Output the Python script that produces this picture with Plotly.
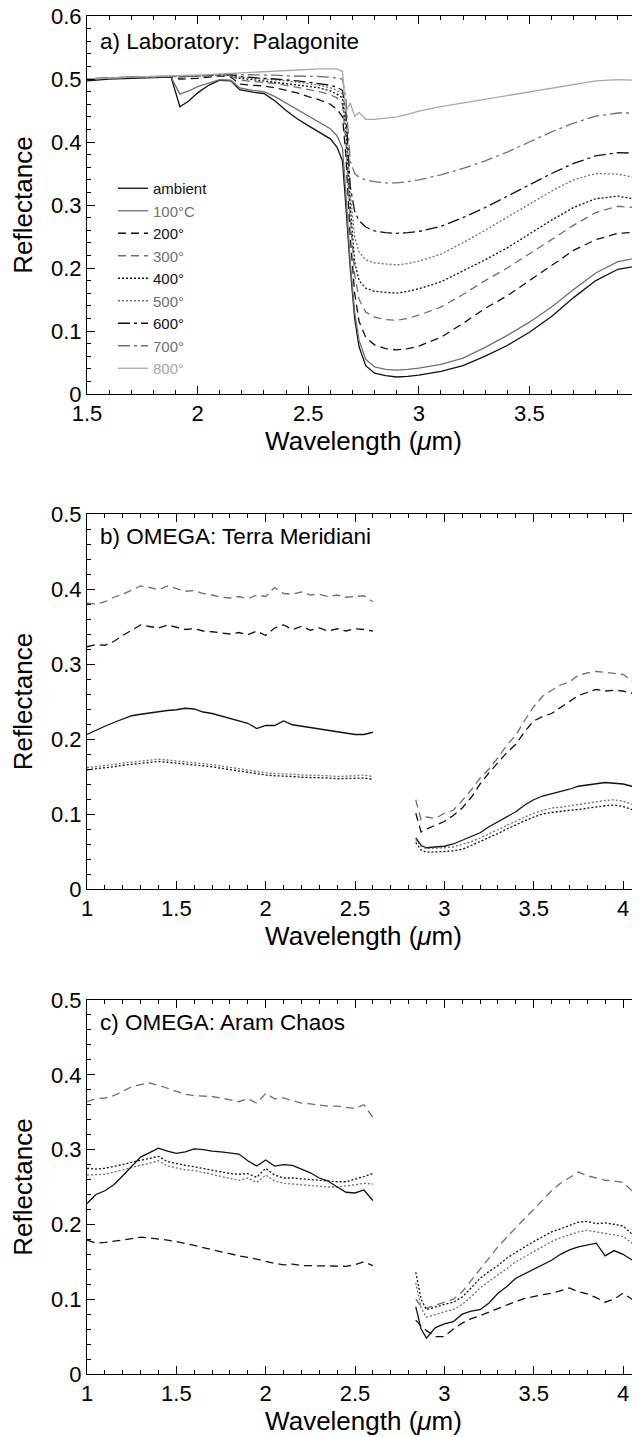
import plotly.graph_objects as go

# ---------------- Panel a: laboratory palagonite ----------------
WL_A = [1.50, 1.60, 1.70, 1.80, 1.88, 1.92, 1.96, 2.00, 2.05, 2.10, 2.15, 2.19, 2.25, 2.30,
        2.35, 2.40, 2.45, 2.50, 2.55, 2.60, 2.63, 2.655, 2.67, 2.69, 2.71, 2.73, 2.76, 2.80,
        2.85, 2.90, 2.95, 3.00, 3.10, 3.20, 3.30, 3.40, 3.50, 3.60, 3.70, 3.80, 3.90, 4.00]

A_AMBIENT = [0.497, 0.500, 0.501, 0.502, 0.503, 0.456, 0.465, 0.478, 0.490, 0.498, 0.497, 0.483, 0.479, 0.477,
             0.465, 0.450, 0.437, 0.426, 0.415, 0.405, 0.392, 0.370, 0.300, 0.200, 0.120, 0.075, 0.045, 0.033,
             0.029, 0.027, 0.028, 0.030, 0.036, 0.045, 0.060, 0.077, 0.098, 0.123, 0.153, 0.180, 0.198, 0.204]
A_100 = [0.500, 0.502, 0.503, 0.503, 0.503, 0.476, 0.481, 0.488, 0.494, 0.499, 0.498, 0.486, 0.482, 0.480,
         0.472, 0.462, 0.452, 0.442, 0.432, 0.421, 0.410, 0.390, 0.320, 0.210, 0.130, 0.085, 0.055, 0.043,
         0.039, 0.038, 0.039, 0.041, 0.047, 0.057, 0.074, 0.093, 0.114, 0.138, 0.166, 0.192, 0.210, 0.217]
A_200 = [0.500, 0.502, 0.503, 0.503, 0.503, 0.500, 0.500, 0.501, 0.503, 0.505, 0.503, 0.492, 0.490, 0.489,
         0.486, 0.482, 0.478, 0.472, 0.467, 0.460, 0.452, 0.440, 0.380, 0.250, 0.160, 0.115, 0.090, 0.078,
         0.072, 0.070, 0.072, 0.076, 0.090, 0.112, 0.136, 0.156, 0.180, 0.205, 0.228, 0.245, 0.255, 0.257]
A_300 = [0.500, 0.502, 0.503, 0.503, 0.504, 0.503, 0.503, 0.504, 0.505, 0.506, 0.505, 0.498, 0.496, 0.495,
         0.493, 0.490, 0.487, 0.484, 0.480, 0.475, 0.470, 0.460, 0.400, 0.280, 0.190, 0.150, 0.130, 0.122,
         0.118, 0.117, 0.120, 0.125, 0.138, 0.158, 0.180, 0.200, 0.222, 0.245, 0.268, 0.288, 0.298, 0.295]
A_400 = [0.500, 0.502, 0.503, 0.503, 0.504, 0.504, 0.504, 0.505, 0.505, 0.506, 0.506, 0.501, 0.499, 0.497,
         0.495, 0.493, 0.491, 0.489, 0.486, 0.481, 0.476, 0.470, 0.420, 0.300, 0.210, 0.180, 0.168, 0.163,
         0.161, 0.160, 0.163, 0.167, 0.178, 0.195, 0.213, 0.232, 0.254, 0.276, 0.296, 0.310, 0.314, 0.308]
A_500 = [0.500, 0.502, 0.503, 0.503, 0.504, 0.504, 0.504, 0.505, 0.505, 0.506, 0.506, 0.503, 0.501, 0.500,
         0.498, 0.497, 0.495, 0.493, 0.490, 0.486, 0.482, 0.476, 0.440, 0.320, 0.250, 0.225, 0.213, 0.208,
         0.206, 0.205, 0.207, 0.211, 0.222, 0.240, 0.260, 0.281, 0.302, 0.322, 0.340, 0.350, 0.349, 0.342]
A_600 = [0.500, 0.502, 0.503, 0.503, 0.504, 0.504, 0.505, 0.505, 0.506, 0.507, 0.507, 0.504, 0.502, 0.501,
         0.500, 0.499, 0.497, 0.495, 0.493, 0.490, 0.487, 0.482, 0.450, 0.330, 0.290, 0.275, 0.265, 0.259,
         0.256, 0.255, 0.256, 0.258, 0.266, 0.280, 0.296, 0.314, 0.332, 0.350, 0.366, 0.378, 0.383, 0.382]
A_700 = [0.500, 0.502, 0.503, 0.504, 0.504, 0.504, 0.505, 0.505, 0.506, 0.507, 0.508, 0.507, 0.507, 0.506,
         0.506, 0.505, 0.505, 0.505, 0.504, 0.503, 0.502, 0.500, 0.470, 0.370, 0.350, 0.344, 0.340, 0.337,
         0.335, 0.335, 0.337, 0.340, 0.348, 0.358, 0.370, 0.384, 0.400, 0.416, 0.430, 0.441, 0.446, 0.446]
A_800 = [0.500, 0.502, 0.503, 0.504, 0.505, 0.505, 0.505, 0.506, 0.507, 0.508, 0.509, 0.509, 0.510, 0.511,
         0.512, 0.513, 0.514, 0.515, 0.516, 0.516, 0.516, 0.512, 0.448, 0.462, 0.441, 0.447, 0.436, 0.436,
         0.438, 0.440, 0.444, 0.449, 0.456, 0.462, 0.468, 0.474, 0.480, 0.486, 0.492, 0.497, 0.499, 0.498]

LEGEND_NAMES = ["ambient", "100°C", "200°", "300°", "400°", "500°", "600°", "700°", "800°"]

# ---------------- OMEGA wavelength grids ----------------
WL_LEFT = [1.00, 1.05, 1.10, 1.15, 1.20, 1.25, 1.30, 1.35, 1.40, 1.45, 1.50, 1.55, 1.60, 1.65, 1.70,
           1.75, 1.80, 1.85, 1.90, 1.95, 2.00, 2.05, 2.10, 2.15, 2.20, 2.25, 2.30, 2.35, 2.40, 2.45,
           2.50, 2.55, 2.60]
WL_RIGHT = [2.84, 2.87, 2.90, 2.95, 3.00, 3.05, 3.10, 3.15, 3.20, 3.25, 3.30, 3.35, 3.40, 3.45,
            3.50, 3.55, 3.60, 3.65, 3.70, 3.75, 3.80, 3.85, 3.90, 3.95, 4.00, 4.05, 4.08]

# ---------------- Panel b: Terra Meridiani ----------------
B_GRAYDASH_L = [0.381, 0.380, 0.383, 0.389, 0.393, 0.398, 0.404, 0.402, 0.399, 0.404, 0.400, 0.397, 0.398,
                0.394, 0.392, 0.389, 0.388, 0.390, 0.387, 0.392, 0.390, 0.402, 0.394, 0.393, 0.396, 0.392,
                0.393, 0.390, 0.392, 0.389, 0.390, 0.391, 0.383]
B_GRAYDASH_R = [0.119, 0.092, 0.096, 0.094, 0.101, 0.105, 0.118, 0.132, 0.148, 0.160, 0.175, 0.192, 0.205,
                0.225, 0.243, 0.257, 0.265, 0.272, 0.276, 0.285, 0.288, 0.290, 0.289, 0.287, 0.286, 0.278, 0.262]
B_BLACKDASH_L = [0.323, 0.326, 0.325, 0.330, 0.338, 0.345, 0.352, 0.350, 0.348, 0.352, 0.349, 0.346, 0.347,
                 0.344, 0.343, 0.341, 0.340, 0.342, 0.339, 0.344, 0.338, 0.348, 0.352, 0.346, 0.350, 0.345,
                 0.348, 0.344, 0.347, 0.344, 0.347, 0.346, 0.344]
B_BLACKDASH_R = [0.101, 0.076, 0.080, 0.085, 0.090, 0.098, 0.108, 0.122, 0.140, 0.155, 0.168, 0.182, 0.193,
                 0.210, 0.224, 0.230, 0.234, 0.242, 0.250, 0.258, 0.262, 0.266, 0.264, 0.265, 0.264, 0.261, 0.250]
B_SOLID_L = [0.206, 0.212, 0.217, 0.222, 0.226, 0.231, 0.233, 0.235, 0.237, 0.238, 0.239, 0.241, 0.240,
             0.236, 0.234, 0.231, 0.228, 0.225, 0.221, 0.214, 0.218, 0.218, 0.224, 0.219, 0.217, 0.216,
             0.214, 0.212, 0.210, 0.207, 0.206, 0.206, 0.209]
B_SOLID_R = [0.068, 0.058, 0.055, 0.056, 0.057, 0.060, 0.065, 0.070, 0.075, 0.083, 0.090, 0.097, 0.103,
             0.112, 0.119, 0.124, 0.127, 0.129, 0.133, 0.137, 0.139, 0.140, 0.142, 0.141, 0.140, 0.137, 0.133]
B_BLACKDOT_L = [0.159, 0.160, 0.162, 0.163, 0.165, 0.166, 0.168, 0.169, 0.170, 0.169, 0.168, 0.167, 0.166,
                0.164, 0.163, 0.161, 0.159, 0.157, 0.155, 0.153, 0.152, 0.151, 0.151, 0.150, 0.149, 0.149,
                0.148, 0.148, 0.147, 0.147, 0.147, 0.148, 0.146]
B_BLACKDOT_R = [0.062, 0.052, 0.049, 0.049, 0.050, 0.051, 0.053, 0.058, 0.063, 0.068, 0.074, 0.080, 0.086,
                0.091, 0.096, 0.100, 0.102, 0.104, 0.105, 0.106, 0.108, 0.109, 0.111, 0.112, 0.110, 0.106, 0.100]
B_GRAYDOT_L = [0.162, 0.163, 0.165, 0.166, 0.168, 0.169, 0.171, 0.172, 0.173, 0.172, 0.171, 0.170, 0.169,
               0.167, 0.166, 0.164, 0.162, 0.160, 0.158, 0.156, 0.155, 0.154, 0.154, 0.153, 0.152, 0.152,
               0.151, 0.151, 0.150, 0.150, 0.151, 0.152, 0.150]
B_GRAYDOT_R = [0.066, 0.057, 0.054, 0.054, 0.055, 0.056, 0.059, 0.063, 0.068, 0.073, 0.079, 0.085, 0.091,
               0.096, 0.101, 0.105, 0.108, 0.109, 0.111, 0.113, 0.114, 0.116, 0.118, 0.119, 0.117, 0.113, 0.106]

# ---------------- Panel c: Aram Chaos ----------------
C_GRAYDASH_L = [0.364, 0.368, 0.369, 0.372, 0.378, 0.384, 0.387, 0.389, 0.386, 0.382, 0.378, 0.374, 0.372,
                0.372, 0.371, 0.369, 0.367, 0.364, 0.368, 0.362, 0.375, 0.368, 0.369, 0.365, 0.362, 0.361,
                0.359, 0.358, 0.358, 0.356, 0.355, 0.360, 0.343]
C_GRAYDASH_R = [0.100, 0.090, 0.088, 0.092, 0.095, 0.100, 0.110, 0.125, 0.140, 0.155, 0.170, 0.183, 0.196,
                0.208, 0.220, 0.233, 0.245, 0.255, 0.262, 0.270, 0.265, 0.262, 0.259, 0.258, 0.256, 0.245, 0.232]
C_SOLID_L = [0.228, 0.240, 0.245, 0.253, 0.265, 0.277, 0.290, 0.296, 0.302, 0.298, 0.295, 0.297, 0.301,
             0.300, 0.298, 0.297, 0.296, 0.294, 0.285, 0.278, 0.286, 0.278, 0.280, 0.279, 0.274, 0.269,
             0.262, 0.258, 0.250, 0.243, 0.242, 0.246, 0.232]
C_SOLID_R = [0.090, 0.060, 0.048, 0.062, 0.067, 0.070, 0.080, 0.084, 0.086, 0.095, 0.108, 0.117, 0.128,
             0.134, 0.140, 0.146, 0.152, 0.160, 0.166, 0.170, 0.172, 0.175, 0.158, 0.165, 0.160, 0.152, 0.148]
C_BLACKDOT_L = [0.275, 0.274, 0.275, 0.277, 0.280, 0.283, 0.286, 0.289, 0.291, 0.284, 0.281, 0.279, 0.277,
                0.275, 0.272, 0.270, 0.268, 0.267, 0.268, 0.263, 0.275, 0.266, 0.262, 0.262, 0.261, 0.261,
                0.260, 0.258, 0.257, 0.257, 0.260, 0.264, 0.268]
C_BLACKDOT_R = [0.136, 0.100, 0.086, 0.090, 0.093, 0.096, 0.103, 0.115, 0.128, 0.137, 0.145, 0.155, 0.163,
                0.170, 0.177, 0.184, 0.190, 0.194, 0.198, 0.203, 0.204, 0.201, 0.202, 0.200, 0.198, 0.187, 0.180]
C_GRAYDOT_L = [0.266, 0.266, 0.267, 0.270, 0.273, 0.276, 0.279, 0.282, 0.285, 0.278, 0.275, 0.273, 0.272,
               0.270, 0.267, 0.264, 0.261, 0.259, 0.262, 0.256, 0.266, 0.258, 0.255, 0.254, 0.252, 0.251,
               0.251, 0.250, 0.250, 0.252, 0.253, 0.255, 0.254]
C_GRAYDOT_R = [0.122, 0.088, 0.076, 0.080, 0.083, 0.086, 0.093, 0.103, 0.115, 0.124, 0.132, 0.141, 0.150,
               0.157, 0.164, 0.171, 0.177, 0.182, 0.186, 0.190, 0.192, 0.190, 0.188, 0.186, 0.184, 0.175, 0.167]
C_BLACKDASH_L = [0.179, 0.175, 0.176, 0.177, 0.179, 0.181, 0.183, 0.182, 0.181, 0.179, 0.177, 0.175, 0.172,
                 0.169, 0.166, 0.163, 0.160, 0.158, 0.156, 0.153, 0.150, 0.148, 0.146, 0.147, 0.145, 0.145,
                 0.144, 0.145, 0.145, 0.144, 0.146, 0.150, 0.145]
C_BLACKDASH_R = [0.072, 0.064, 0.058, 0.050, 0.050, 0.060, 0.068, 0.074, 0.078, 0.083, 0.087, 0.092, 0.097,
                 0.101, 0.104, 0.106, 0.108, 0.112, 0.115, 0.110, 0.107, 0.102, 0.096, 0.100, 0.108, 0.100, 0.098]

# ---------------- styles ----------------
BLACK = "#111111"
GRAY = "#707070"
LIGHT = "#a8a8a8"
DASH = "8px,5px"
DOT = "2px,2px"
DASHDOT = "12px,4px,3px,4px"
STYLE = {
    "ambient": (BLACK, "solid"), "100°C": (GRAY, "solid"),
    "200°": (BLACK, DASH), "300°": (GRAY, DASH),
    "400°": (BLACK, DOT), "500°": (GRAY, DOT),
    "600°": (BLACK, DASHDOT), "700°": (GRAY, DASHDOT),
    "800°": (LIGHT, "solid"),
}
LW = 1.3
FONT = "Liberation Sans, Arial, Helvetica, sans-serif"

fig = go.Figure()

for name, ys in zip(LEGEND_NAMES, [A_AMBIENT, A_100, A_200, A_300, A_400, A_500, A_600, A_700, A_800]):
    col, dash = STYLE[name]
    fig.add_trace(go.Scatter(
        x=WL_A, y=ys, mode="lines", xaxis="x", yaxis="y",
        line=dict(color=col, width=LW, dash=dash),
        name=f"<span style='color:{col}'>{name}</span>", showlegend=True))


def omega(left, right, style, xa, ya):
    col, dash = STYLE[style]
    fig.add_trace(go.Scatter(
        x=WL_LEFT + [None] + WL_RIGHT, y=left + [None] + right, mode="lines",
        xaxis=xa, yaxis=ya, line=dict(color=col, width=LW, dash=dash), showlegend=False))


omega(B_GRAYDASH_L, B_GRAYDASH_R, "300°", "x2", "y2")
omega(B_BLACKDASH_L, B_BLACKDASH_R, "200°", "x2", "y2")
omega(B_SOLID_L, B_SOLID_R, "ambient", "x2", "y2")
omega(B_GRAYDOT_L, B_GRAYDOT_R, "500°", "x2", "y2")
omega(B_BLACKDOT_L, B_BLACKDOT_R, "400°", "x2", "y2")

omega(C_GRAYDASH_L, C_GRAYDASH_R, "300°", "x3", "y3")
omega(C_GRAYDOT_L, C_GRAYDOT_R, "500°", "x3", "y3")
omega(C_BLACKDOT_L, C_BLACKDOT_R, "400°", "x3", "y3")
omega(C_SOLID_L, C_SOLID_R, "ambient", "x3", "y3")
omega(C_BLACKDASH_L, C_BLACKDASH_R, "200°", "x3", "y3")

# page body has an 8px default margin: figure is sized to fit the window exactly
W = 632.0
H = 1429.0
OFF = 8.0


def xax(rng, anchor, dtick):
    return dict(range=rng, domain=[(87 - OFF) / W, 1.0], anchor=anchor, dtick=dtick, tick0=0,
                showline=True, linecolor="black", linewidth=1, mirror="allticks",
                ticks="inside", ticklen=8, tickwidth=1, tickcolor="black",
                minor=dict(ticks="inside", ticklen=4, dtick=0.1, tickcolor="black", tickwidth=1),
                showgrid=False, zeroline=False, automargin=False, ticklabeloverflow="allow",
                tickfont=dict(size=22, color="black", family=FONT),
                title=dict(text="Wavelength (<i>μ</i>m)", font=dict(size=26, color="black", family=FONT),
                           standoff=2))


def yax(top, bottom, rng, anchor):
    return dict(range=rng, domain=[1 - (bottom - OFF) / H, 1 - (top - OFF) / H], anchor=anchor,
                dtick=0.1, tick0=0,
                showline=True, linecolor="black", linewidth=1, mirror="allticks",
                ticks="inside", ticklen=8, tickwidth=1, tickcolor="black",
                minor=dict(ticks="inside", ticklen=4, dtick=0.02, tickcolor="black", tickwidth=1),
                showgrid=False, zeroline=False, automargin=False, ticklabeloverflow="allow",
                tickfont=dict(size=22, color="black", family=FONT),
                title=dict(text="Reflectance", font=dict(size=26, color="black", family=FONT), standoff=14))


fig.update_layout(
    width=int(W), height=int(H),
    margin=dict(l=0, r=0, t=0, b=0),
    paper_bgcolor="white", plot_bgcolor="white",
    font=dict(family=FONT, color="black"),
    xaxis=xax([1.5, 4.0], "y", 0.5),
    yaxis=yax(16, 394, [0, 0.6], "x"),
    xaxis2=xax([1.0, 4.095], "y2", 0.5),
    yaxis2=yax(514, 889, [0, 0.5], "x2"),
    xaxis3=xax([1.0, 4.095], "y3", 0.5),
    yaxis3=yax(1000, 1374, [0, 0.5], "x3"),
    legend=dict(x=105 / W, y=1 - 164 / H, xanchor="left", yanchor="top",
                bgcolor="rgba(0,0,0,0)", font=dict(size=15, family=FONT, color="black"),
                itemwidth=30, tracegroupgap=0),
    annotations=[
        dict(text="a) Laboratory:  Palagonite", xref="x domain", yref="y domain", x=0.02, y=0.932,
             xanchor="left", yanchor="middle", showarrow=False, font=dict(size=22.5, family=FONT)),
        dict(text="b) OMEGA: Terra Meridiani", xref="x2 domain", yref="y2 domain", x=0.02, y=0.94,
             xanchor="left", yanchor="middle", showarrow=False, font=dict(size=22.5, family=FONT)),
        dict(text="c) OMEGA: Aram Chaos", xref="x3 domain", yref="y3 domain", x=0.02, y=0.94,
             xanchor="left", yanchor="middle", showarrow=False, font=dict(size=22.5, family=FONT)),
    ],
)

fig.write_html("out.html")
